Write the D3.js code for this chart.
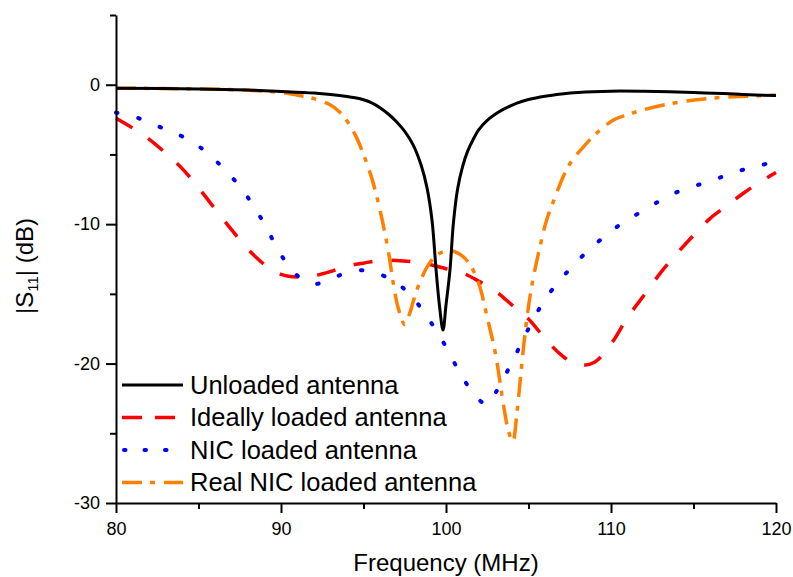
<!DOCTYPE html>
<html>
<head>
<meta charset="utf-8">
<script src="https://cdn.jsdelivr.net/npm/d3@7"></script>
<style>
  body { margin: 0; background: #fff; }
  svg { display: block; }
  text { font-family: Arial, "Liberation Sans", sans-serif; fill: #000; }
</style>
</head>
<body>
<svg id="chart" width="793" height="577"></svg>
<script>
// Reflection coefficient |S11| (dB) versus frequency (MHz) for four antenna configurations

const seriesNames = ["Unloaded antenna", "Ideally loaded antenna", "NIC loaded antenna", "Real NIC loaded antenna"];

// Unloaded antenna
const unloadedFreq = [80, 85, 88, 90, 92, 93, 94, 94.5, 95, 95.5, 96, 96.5, 97, 97.5, 98, 98.5, 98.85, 99.15, 99.4, 99.6, 99.82, 100.0, 100.24, 100.45, 100.7, 101.0, 101.3, 101.7, 102.0, 102.5, 103, 103.5, 104.3, 105, 106, 107, 108, 110, 112, 115, 118, 120];
const unloadedS11  = [-0.25, -0.3, -0.38, -0.48, -0.6, -0.7, -0.84, -0.94, -1.08, -1.3, -1.65, -2.1, -2.65, -3.35, -4.3, -5.8, -7.4, -9.7, -13.3, -15.8, -17.6, -15.8, -13.3, -9.9, -7.5, -5.9, -4.8, -3.8, -3.2, -2.55, -2.1, -1.75, -1.32, -1.06, -0.82, -0.66, -0.55, -0.46, -0.47, -0.55, -0.7, -0.78];

// Ideally loaded antenna
const idealFreq = [80, 81, 82, 83, 84, 85, 86, 87, 88, 89, 90, 91, 92, 93, 94, 95, 96, 97, 98, 99, 100, 101, 102, 103, 104, 105, 106, 107, 108, 109, 110, 111, 112, 113, 114, 115, 116, 117, 118, 119, 120];
const idealS11  = [-2.4, -3.1, -3.9, -4.9, -6.0, -7.4, -8.9, -10.4, -11.8, -12.9, -13.6, -13.8, -13.7, -13.4, -13.0, -12.8, -12.6, -12.6, -12.7, -12.9, -13.2, -13.5, -14.1, -14.8, -15.8, -16.8, -18.2, -19.4, -20.1, -19.9, -18.6, -16.7, -15.1, -13.5, -12.1, -10.8, -9.6, -8.7, -7.8, -7.0, -6.3];

// NIC loaded antenna
const nicFreq = [80, 81, 82, 83, 84, 85, 86, 87, 88, 89, 90, 91, 92, 93, 94, 95, 96, 97, 98, 99, 100, 101, 102, 102.5, 103, 104, 105, 106, 107, 108, 109, 110, 111, 112, 113, 114, 115, 116, 117, 118, 119, 120];
const nicS11  = [-2.0, -2.25, -2.7, -3.2, -3.7, -4.4, -5.4, -6.6, -8.1, -10.0, -12.2, -13.7, -14.3, -13.9, -13.5, -13.3, -13.6, -14.2, -15.3, -16.9, -18.8, -21.0, -22.6, -22.9, -22.1, -19.9, -17.5, -15.4, -13.9, -12.6, -11.5, -10.5, -9.7, -9.0, -8.3, -7.7, -7.3, -6.9, -6.5, -6.1, -5.8, -5.5];

// Real NIC loaded antenna
const realFreq = [80, 85, 88, 90, 91, 92, 93, 93.5, 94, 94.5, 95, 95.5, 96, 96.5, 96.8, 97.1, 97.5, 97.8, 98, 98.4, 99, 99.6, 100.3, 101, 101.5, 102, 102.5, 103, 103.5, 103.8, 104.05, 104.3, 104.5, 104.7, 105, 105.3, 105.7, 106.1, 106.6, 107.1, 107.6, 108.3, 109.1, 110.2, 111, 111.8, 113.4, 115.8, 117.8, 120];
const realS11  = [-0.25, -0.3, -0.4, -0.55, -0.75, -1.0, -1.45, -1.9, -2.6, -3.6, -5.0, -6.7, -9.0, -11.9, -14.2, -16.0, -17.2, -16.4, -15.6, -14.2, -12.8, -12.1, -11.9, -12.3, -13.0, -14.3, -16.7, -19.3, -23.1, -24.9, -25.6, -23.5, -21.2, -18.8, -15.9, -13.8, -11.6, -9.7, -8.1, -6.6, -5.5, -4.5, -3.5, -2.5, -2.15, -1.85, -1.4, -1.0, -0.85, -0.75];

// Axis ticks
const xMajorTicks = [80, 90, 100, 110, 120];
const xMinorTicks = [85, 95, 105, 115];
const yMajorTicks = [-30, -20, -10, 0];
const yMinorTicks = [-25, -15, -5, 5];

const svg = d3.select("#chart");

const x = d3.scaleLinear().domain([80, 120]).range([116, 776]);
const y = d3.scaleLinear().domain([-30, 5]).range([503, 15]);

// Line styles per series
const styles = [
  { color: "#000000", width: 3,   dash: null,         cap: "butt"  },
  { color: "#ff0000", width: 3.5, dash: "19 19",      cap: "butt"  },
  { color: "#0000ff", width: 4,   dash: "1.5 21.5",   cap: "round" },
  { color: "#ff8000", width: 3.5, dash: "20 8 5 9",   cap: "butt"  }
];

const series = [
  { freq: unloadedFreq, s11: unloadedS11 },
  { freq: idealFreq,    s11: idealS11 },
  { freq: nicFreq,      s11: nicS11 },
  { freq: realFreq,     s11: realS11 }
];

const line = d3.line()
  .x(d => x(d[0]))
  .y(d => y(d[1]))
  .curve(d3.curveCatmullRom.alpha(0.5));

// Curves: the unloaded response is drawn last so it sits on top
const drawOrder = [1, 2, 3, 0];
drawOrder.forEach(i => {
  const s = series[i];
  const st = styles[i];
  const pts = s.freq.map((f, k) => [f, s.s11[k]]);
  svg.append("path")
    .attr("d", line(pts))
    .attr("fill", "none")
    .attr("stroke", st.color)
    .attr("stroke-width", st.width)
    .attr("stroke-linecap", st.cap)
    .attr("stroke-linejoin", "round")
    .attr("stroke-dasharray", st.dash);
});

// Axes
function styleAxis(g) {
  g.select(".domain").attr("stroke", "#000").attr("stroke-width", 2);
  g.selectAll(".tick line").attr("stroke", "#000").attr("stroke-width", 2);
  g.selectAll(".tick text").attr("font-size", 18).attr("font-family", "Arial, 'Liberation Sans', sans-serif").attr("fill", "#000");
}

const xAxisG = svg.append("g")
  .attr("transform", `translate(0,${y(-30)})`)
  .call(d3.axisBottom(x).tickValues(xMajorTicks).tickSize(10).tickSizeOuter(0).tickPadding(9).tickFormat(d => String(d)));
styleAxis(xAxisG);

const xMinorG = svg.append("g")
  .attr("transform", `translate(0,${y(-30)})`)
  .call(d3.axisBottom(x).tickValues(xMinorTicks).tickSize(6).tickSizeOuter(0).tickFormat(""));
xMinorG.select(".domain").remove();
styleAxis(xMinorG);

const yAxisG = svg.append("g")
  .attr("transform", `translate(${x(80)},0)`)
  .call(d3.axisLeft(y).tickValues(yMajorTicks).tickSize(10).tickSizeOuter(0).tickPadding(6).tickFormat(d => String(d)));
styleAxis(yAxisG);

const yMinorG = svg.append("g")
  .attr("transform", `translate(${x(80)},0)`)
  .call(d3.axisLeft(y).tickValues(yMinorTicks).tickSize(6).tickSizeOuter(0).tickFormat(""));
yMinorG.select(".domain").remove();
styleAxis(yMinorG);

// Axis titles
svg.append("text")
  .attr("x", x(100))
  .attr("y", 571)
  .attr("text-anchor", "middle")
  .attr("font-size", 24)
  .text("Frequency (MHz)");

const yTitle = svg.append("text")
  .attr("transform", "translate(33,266) rotate(-90)")
  .attr("text-anchor", "middle")
  .attr("font-size", 24);
yTitle.append("tspan").text("|S");
yTitle.append("tspan").attr("font-size", 15).attr("dy", 5).text("11");
yTitle.append("tspan").attr("dy", -5).text("| (dB)");

// Legend
const legendRows = [385, 417.5, 450, 482.5];
const legend = svg.append("g");
seriesNames.forEach((name, i) => {
  const st = styles[i];
  const ly = legendRows[i];
  legend.append("line")
    .attr("x1", 122).attr("x2", 183)
    .attr("y1", ly).attr("y2", ly)
    .attr("stroke", st.color)
    .attr("stroke-width", st.width)
    .attr("stroke-linecap", st.cap)
    .attr("stroke-dasharray", i === 1 ? "20 13" : (i === 2 ? "1.5 19" : st.dash))
    .attr("stroke-dashoffset", i === 2 ? -2 : 0);
  legend.append("text")
    .attr("x", 190)
    .attr("y", ly + 8.5)
    .attr("font-size", 25.5)
    .text(name);
});
</script>
</body>
</html>
